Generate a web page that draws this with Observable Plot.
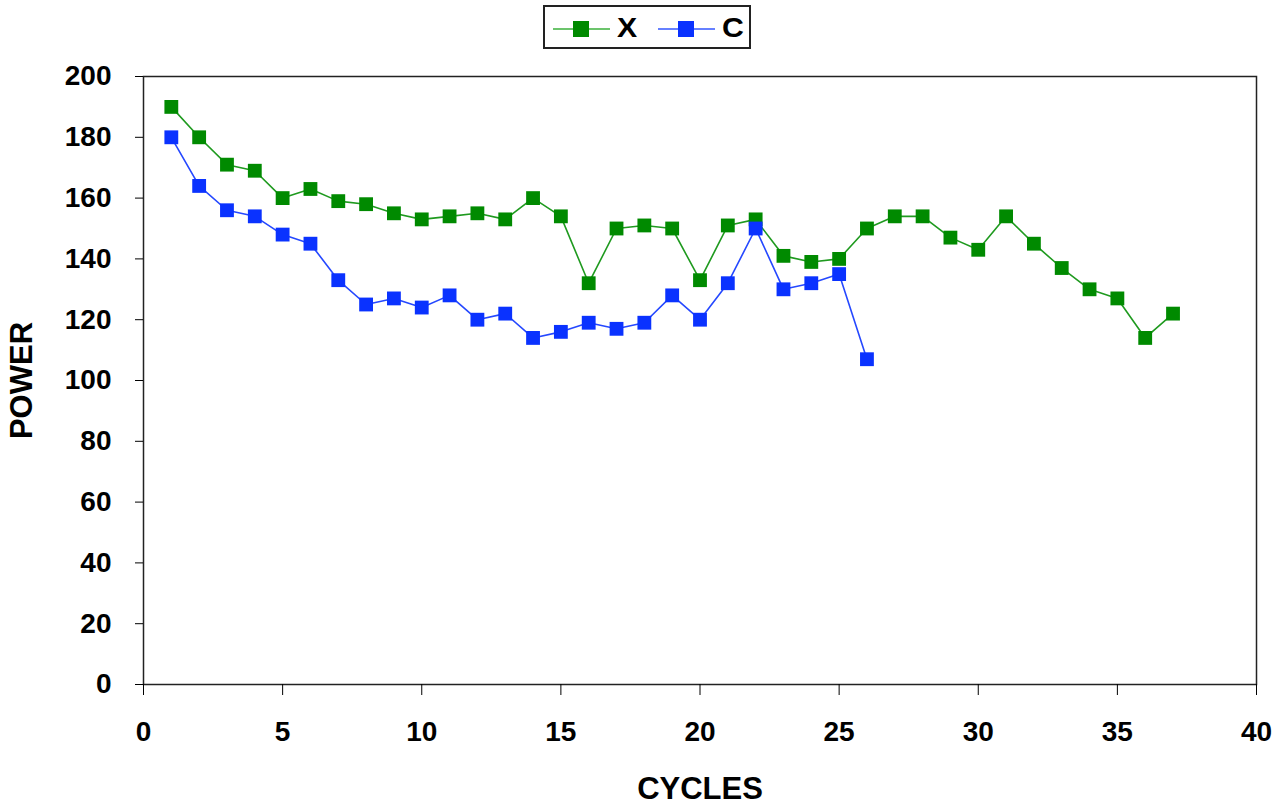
<!DOCTYPE html>
<html>
<head>
<meta charset="utf-8">
<script src="https://cdn.jsdelivr.net/npm/d3@7"></script>
<script src="https://cdn.jsdelivr.net/npm/@observablehq/plot@0.6"></script>
<style>
  body { margin: 0; background: #fff; font-family: "Liberation Sans", Arial, sans-serif; }
  #legendRow { position: relative; height: 60px; }
  #legend { position: absolute; left: 543px; top: 5px; width: 204px; height: 40px;
            border: 2px solid #222; display: flex; align-items: center; box-sizing: content-box; }
  .item { display: flex; align-items: center; font-weight: bold; font-size: 27px; color: #000; }
  .item .lbl { display: inline-block; transform: scaleX(1.12); transform-origin: left center; position: relative; top: 1px; }
  .sw { position: relative; width: 57px; height: 20px; margin-right: 7px; }
  .sw .ln { position: absolute; left: 0; right: 0; top: 11px; height: 2px; }
  .sw .sq { position: absolute; left: 20px; top: 4px; width: 16px; height: 16px; }
</style>
</head>
<body>
<div id="legendRow">
  <div id="legend">
    <div class="item" style="margin-left:8px"><div class="sw"><div class="ln" style="background:#6cc46c"></div><div class="sq" style="background:#008a00"></div></div><span class="lbl">X</span></div>
    <div class="item" style="margin-left:23px"><div class="sw"><div class="ln" style="background:#6680ff"></div><div class="sq" style="background:#0a32ff"></div></div><span class="lbl">C</span></div>
  </div>
</div>
<div id="chart"></div>
<script>
// Data
const seriesNames = ["X", "C"];
const xCycles = d3.range(1, 38);
const xPower = [190, 180, 171, 169, 160, 163, 159, 158, 155, 153,
                154, 155, 153, 160, 154, 132, 150, 151, 150, 133,
                151, 153, 141, 139, 140, 150, 154, 154, 147, 143,
                154, 145, 137, 130, 127, 114, 122];
const cCycles = d3.range(1, 27);
const cPower = [180, 164, 156, 154, 148, 145, 133, 125, 127, 124,
                128, 120, 122, 114, 116, 119, 117, 119, 128, 120,
                132, 150, 130, 132, 135, 107];
const xTicks = [0, 5, 10, 15, 20, 25, 30, 35, 40];
const yTicks = [0, 20, 40, 60, 80, 100, 120, 140, 160, 180, 200];
const colors = {X: {line: "#1f9a1f", dot: "#008a00"}, C: {line: "#2548ff", dot: "#0a32ff"}};

const rows = [
  ...xCycles.map((c, i) => ({series: "X", cycle: c, power: xPower[i]})),
  ...cCycles.map((c, i) => ({series: "C", cycle: c, power: cPower[i]}))
];

const marks = [
  Plot.frame({stroke: "#222", strokeWidth: 1.5}),
  Plot.axisX({ticks: xTicks, tickSize: 11, tickPadding: 26, fontSize: 28, fontWeight: "bold", label: null}),
  Plot.axisY({ticks: yTicks, tickSize: 8, tickPadding: 24, fontSize: 28, fontWeight: "bold", label: null}),
  Plot.text(["CYCLES"], {frameAnchor: "bottom", lineAnchor: "bottom", dy: 114, fontSize: 31, fontWeight: "bold", fill: "#000"}),
  Plot.text(["POWER"], {frameAnchor: "left", textAnchor: "middle", lineAnchor: "middle", dx: -121, rotate: -90, fontSize: 31, fontWeight: "bold", fill: "#000"})
];
for (const s of seriesNames) {
  const d = rows.filter(r => r.series === s);
  marks.push(Plot.line(d, {x: "cycle", y: "power", stroke: colors[s].line, strokeWidth: 1.6}));
  marks.push(Plot.dot(d, {x: "cycle", y: "power", symbol: "square", r: 7.8, fill: colors[s].dot, stroke: "none"}));
}

const chart = Plot.plot({
  width: 1281,
  height: 745,
  marginTop: 16,
  marginBottom: 121,
  marginLeft: 143,
  marginRight: 25,
  style: {fontFamily: "'Liberation Sans', Arial, sans-serif", color: "#000", background: "#fff"},
  x: {domain: [0, 40]},
  y: {domain: [0, 200]},
  marks
});
document.getElementById("chart").appendChild(chart);
</script>
</body>
</html>
